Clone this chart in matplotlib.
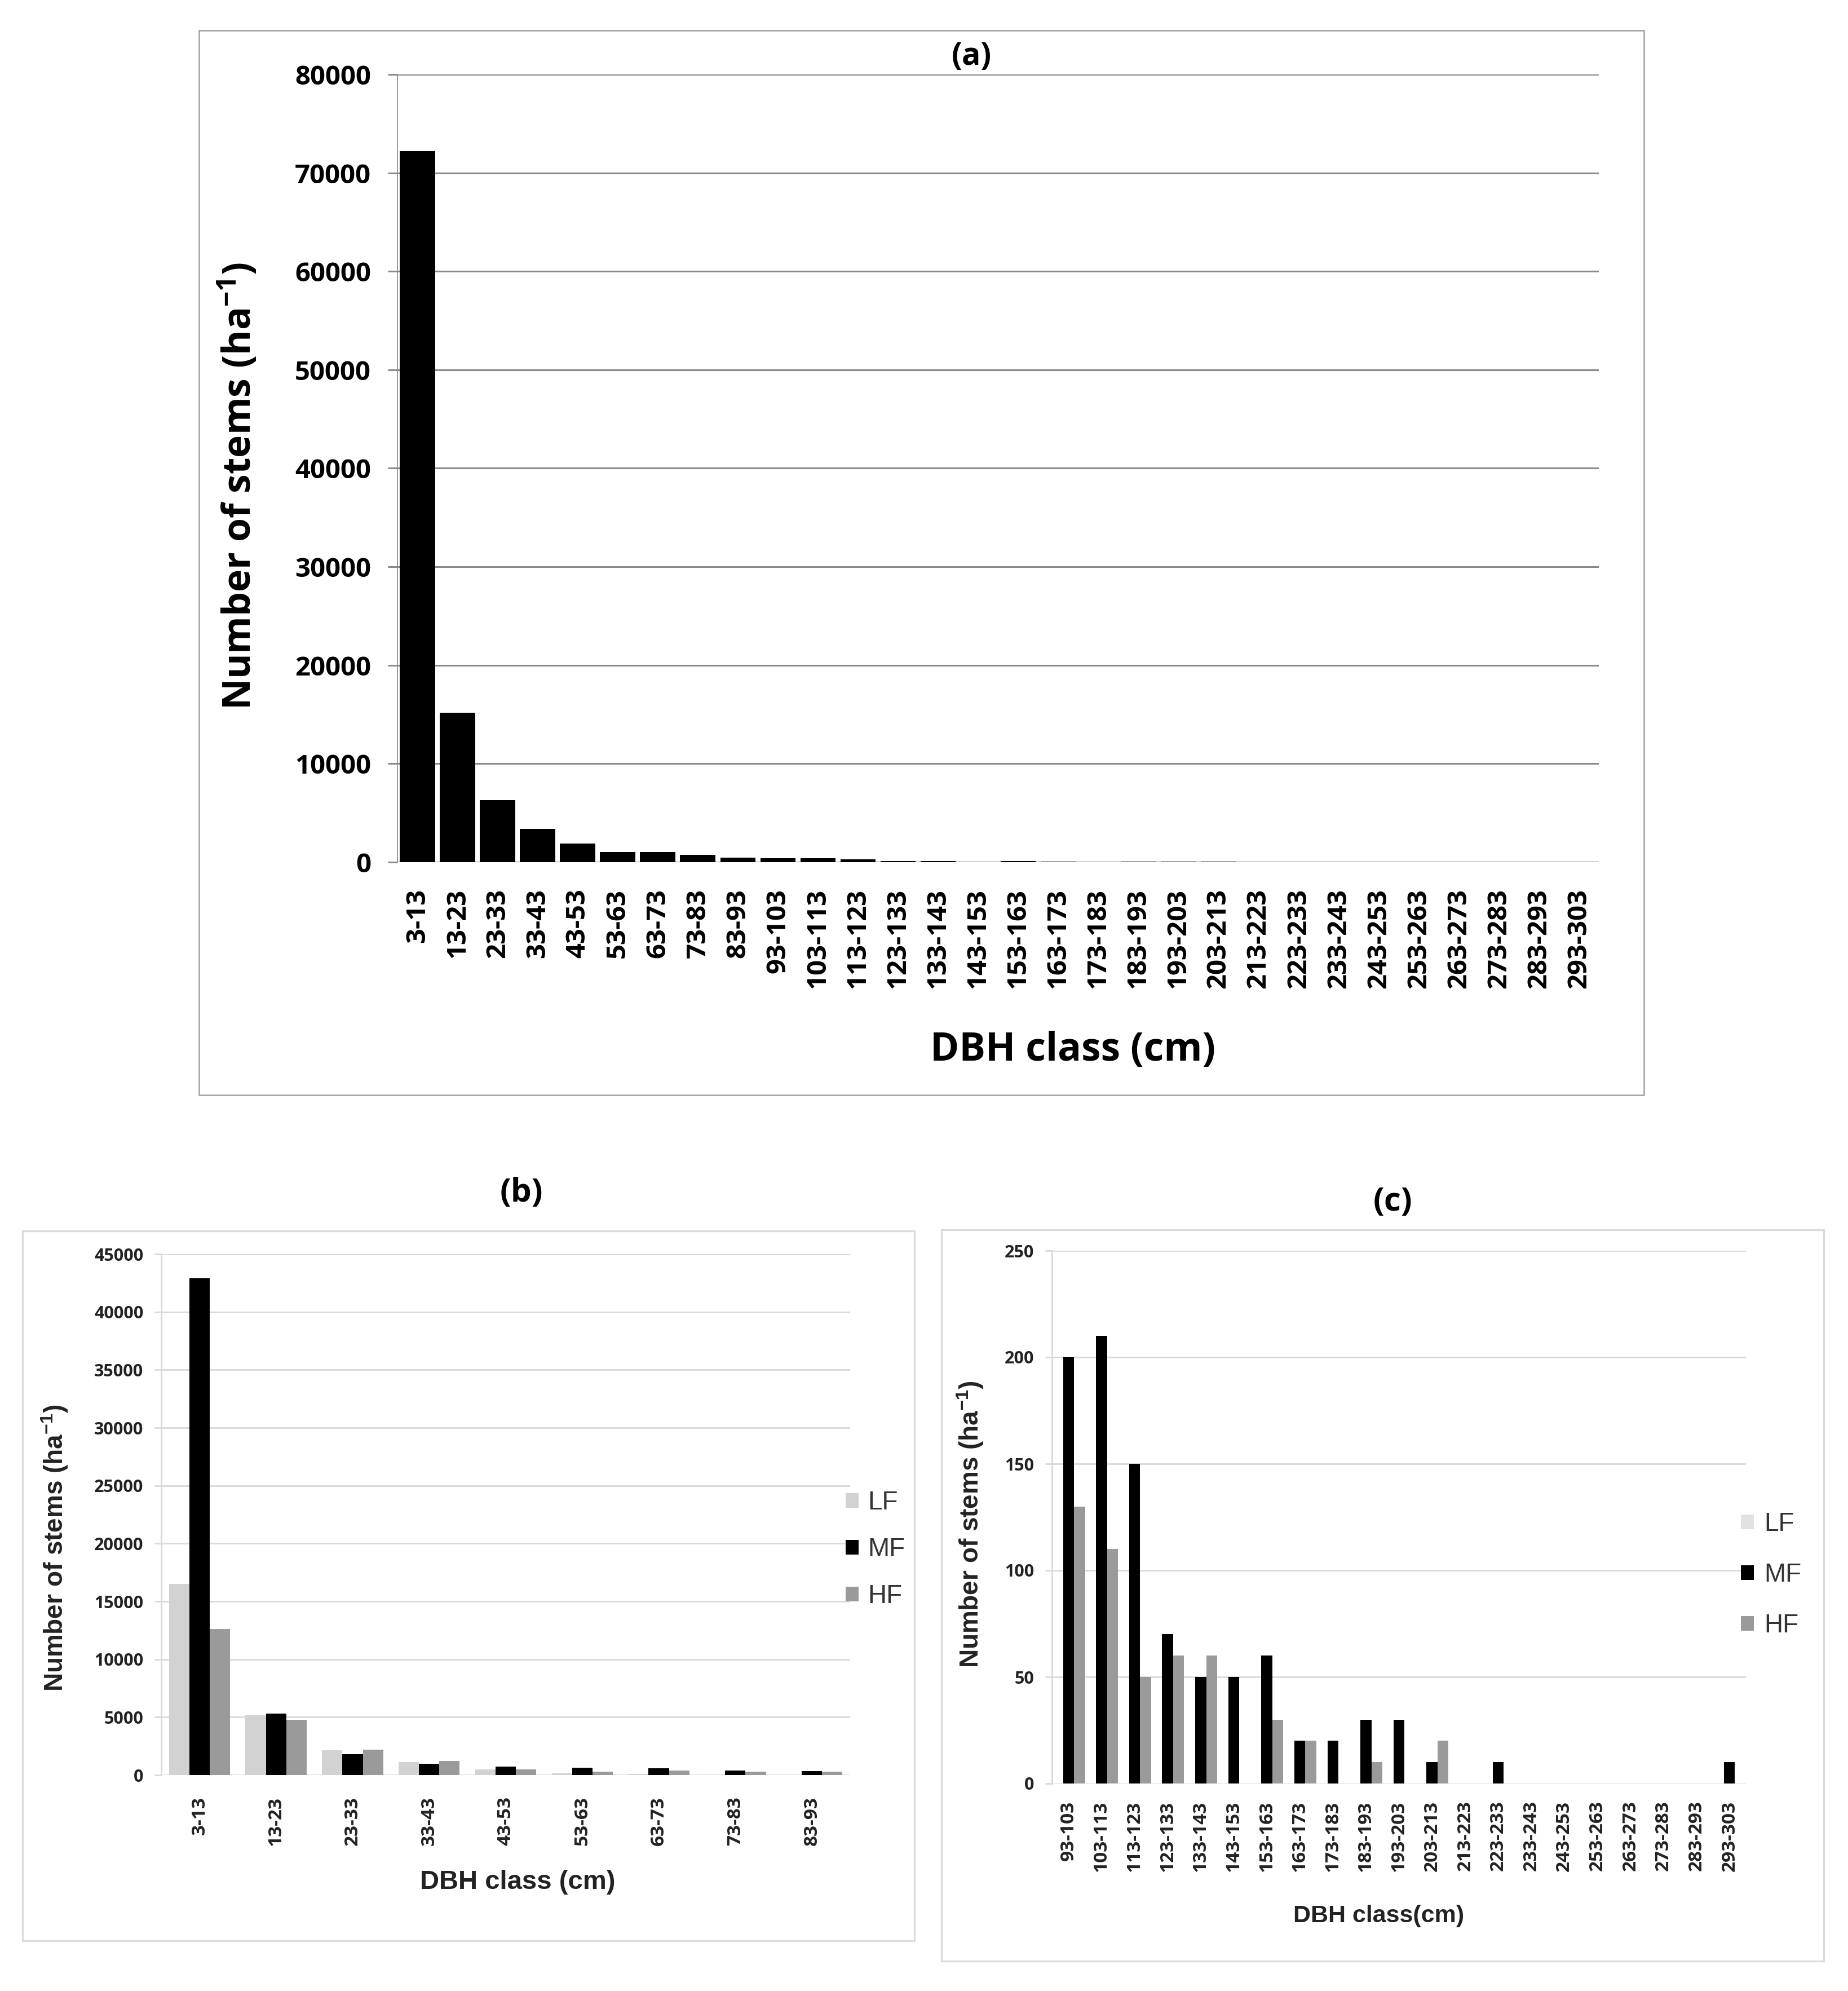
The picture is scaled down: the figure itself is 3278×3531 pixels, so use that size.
import numpy as np
import matplotlib
matplotlib.use("Agg")
import matplotlib.pyplot as plt
from matplotlib.patches import Rectangle

plt.rcParams['mathtext.default'] = 'regular'

# ---------------- data ----------------
classes_a = ["3-13", "13-23", "23-33", "33-43", "43-53", "53-63", "63-73", "73-83", "83-93",
             "93-103", "103-113", "113-123", "123-133", "133-143", "143-153", "153-163",
             "163-173", "173-183", "183-193", "193-203", "203-213", "213-223", "223-233",
             "233-243", "243-253", "253-263", "263-273", "273-283", "283-293", "293-303"]
stems_a = [72200, 15200, 6300, 3400, 1900, 1050, 1050, 720, 480, 380, 380, 270, 130, 130, 0,
           130, 40, 20, 40, 30, 30, 0, 10, 0, 0, 0, 0, 0, 0, 10]

classes_b = ["3-13", "13-23", "23-33", "33-43", "43-53", "53-63", "63-73", "73-83", "83-93"]
lf_b = [16500, 5150, 2150, 1120, 490, 130, 90, 30, 0]
mf_b = [42900, 5300, 1800, 980, 720, 630, 580, 400, 360]
hf_b = [12600, 4750, 2200, 1200, 490, 310, 400, 270, 270]

classes_c = ["93-103", "103-113", "113-123", "123-133", "133-143", "143-153", "153-163",
             "163-173", "173-183", "183-193", "193-203", "203-213", "213-223", "223-233",
             "233-243", "243-253", "253-263", "263-273", "273-283", "283-293", "293-303"]
lf_c = [0] * 21
mf_c = [200, 210, 150, 70, 50, 50, 60, 20, 20, 30, 30, 10, 0, 10, 0, 0, 0, 0, 0, 0, 10]
hf_c = [130, 110, 50, 60, 60, 0, 30, 20, 0, 10, 0, 20, 0, 0, 0, 0, 0, 0, 0, 0, 0]

series_names = ["LF", "MF", "HF"]

# ---------------- figure ----------------
W, H = 3278, 3531
DPI = 200
fig = plt.figure(figsize=(W / DPI, H / DPI), dpi=DPI)
fig.patch.set_facecolor("white")


def fx(px):
    return px / W


def fy(py):
    return 1 - py / H


def add_axes_px(left, top, right, bottom):
    return fig.add_axes([fx(left), fy(bottom), fx(right) - fx(left), fy(top) - fy(bottom)])


def border(x0, y0, x1, y1, color, lw):
    fig.add_artist(Rectangle((fx(x0), fy(y1)), fx(x1) - fx(x0), fy(y0) - fy(y1),
                             transform=fig.transFigure, fill=False, edgecolor=color,
                             linewidth=lw, zorder=0))


OPEN = "Open Sans"
LIB = "Liberation Sans"

# ---------------- panel (a) ----------------
border(353, 54, 2916, 1942, "#a0a0a0", 0.9)
axa = add_axes_px(705, 132, 2836, 1529)
xa = np.arange(len(classes_a))
axa.bar(xa, stems_a, width=0.88, color="black", zorder=3)
axa.set_xlim(-0.5, len(classes_a) - 0.5)
axa.set_ylim(0, 80000)
axa.set_yticks(np.arange(0, 80001, 10000))
axa.yaxis.grid(True, color="#8a8a8a", linewidth=1.1, zorder=0)
axa.set_axisbelow(True)
for s in ["top", "right", "bottom"]:
    axa.spines[s].set_visible(False)
axa.spines["left"].set_color("#8a8a8a")
axa.spines["left"].set_linewidth(0.6)
axa.tick_params(axis="y", length=6, width=1.1, color="#8a8a8a", pad=11)
axa.tick_params(axis="x", length=0, pad=17)
axa.set_xticks(xa)
axa.set_xticklabels(classes_a, rotation=90, fontsize=17, fontweight="bold", family=OPEN)
for t in axa.get_yticklabels():
    t.set_fontsize(17)
    t.set_fontweight("bold")
    t.set_family(OPEN)
fig.text(fx(1723), fy(100), "(a)", ha="center", va="center", fontsize=20,
         fontweight="bold", family=OPEN)
fig.text(fx(423), fy(862), "Number of stems (ha$^{-1}$)", ha="center", va="center",
         rotation=90, fontsize=24.5, fontweight="bold", family=OPEN)
fig.text(fx(1903), fy(1863), "DBH class (cm)", ha="center", va="center", fontsize=25,
         fontweight="bold", family=OPEN)

# ---------------- styling helper for (b)/(c) ----------------
colors = ["#d2d2d2", "black", "#9a9a9a"]


def style_small(ax, classes, ymax, ystep, xpad):
    ax.set_xlim(-0.5, len(classes) - 0.5)
    ax.set_ylim(0, ymax)
    ax.set_yticks(np.arange(0, ymax + 1, ystep))
    ax.yaxis.grid(True, color="#d9d9d9", linewidth=1.0, zorder=0)
    ax.set_axisbelow(True)
    for s in ["top", "right", "bottom"]:
        ax.spines[s].set_visible(False)
    ax.spines["left"].set_color("#d9d9d9")
    ax.spines["left"].set_linewidth(1.0)
    ax.tick_params(axis="y", length=4.3, width=1.0, color="#d9d9d9", pad=7)
    ax.tick_params(axis="x", length=0, pad=xpad)
    ax.set_xticks(np.arange(len(classes)))
    ax.set_xticklabels(classes, rotation=90, fontsize=12, fontweight="bold", family=OPEN,
                       color="#222222")
    for t in ax.get_yticklabels():
        t.set_fontsize(11)
        t.set_fontweight("bold")
        t.set_family(OPEN)
        t.set_color("#222222")


# ---------------- panel (b) ----------------
border(40, 2183, 1622, 3442, "#dcdcdc", 1.2)
axb = add_axes_px(286, 2224, 1508, 3148)
xb = np.arange(len(classes_b))
wb = 0.266
hb = []
for k, vals in enumerate([lf_b, mf_b, hf_b]):
    hb.append(axb.bar(xb + (k - 1) * wb, vals, width=wb, color=colors[k], zorder=3,
                      label=series_names[k]))
style_small(axb, classes_b, 45000, 5000, 13.7)
fig.text(fx(925), fy(2116), "(b)", ha="center", va="center", fontsize=21,
         fontweight="bold", family=OPEN)
fig.text(fx(97), fy(2745), "Number of stems (ha$^{-1}$)", ha="center", va="center",
         rotation=90, fontsize=16.5, fontweight="bold", family=LIB, color="#222222")
fig.text(fx(918), fy(3338), "DBH class (cm)", ha="center", va="center", fontsize=17,
         fontweight="bold", family=LIB, color="#222222")
legb = axb.legend(handles=hb, loc="center left", bbox_to_anchor=(fx(1500), fy(2748)),
                  bbox_transform=fig.transFigure, frameon=False, borderpad=0,
                  borderaxespad=0, handlelength=0.5, handleheight=0.5, handletextpad=0.35,
                  labelspacing=0.85, prop={"family": LIB, "size": 16.5})
for t in legb.get_texts():
    t.set_color("#333333")

# ---------------- panel (c) ----------------
border(1670, 2181, 3235, 3478, "#dcdcdc", 1.2)
axc = add_axes_px(1866, 2218, 3097, 3163)
xc = np.arange(len(classes_c))
wc = 0.333
hc = []
ccolors = ["#e2e2e2", "black", "#9a9a9a"]
for k, vals in enumerate([lf_c, mf_c, hf_c]):
    hc.append(axc.bar(xc + (k - 1) * wc, vals, width=wc, color=ccolors[k], zorder=3,
                      label=series_names[k]))
style_small(axc, classes_c, 250, 50, 11)
fig.text(fx(2471), fy(2132), "(c)", ha="center", va="center", fontsize=21,
         fontweight="bold", family=OPEN)
fig.text(fx(1721), fy(2703), "Number of stems (ha$^{-1}$)", ha="center", va="center",
         rotation=90, fontsize=16.5, fontweight="bold", family=LIB, color="#222222")
fig.text(fx(2446), fy(3398), "DBH class(cm)", ha="center", va="center", fontsize=15.5,
         fontweight="bold", family=LIB, color="#222222")
legc = axc.legend(handles=hc, loc="center left", bbox_to_anchor=(fx(3088), fy(2793)),
                  bbox_transform=fig.transFigure, frameon=False, borderpad=0,
                  borderaxespad=0, handlelength=0.5, handleheight=0.5, handletextpad=0.4,
                  labelspacing=1.0, prop={"family": LIB, "size": 16.5})
for t in legc.get_texts():
    t.set_color("#333333")

fig.savefig("out.png", dpi=DPI, facecolor="white")
